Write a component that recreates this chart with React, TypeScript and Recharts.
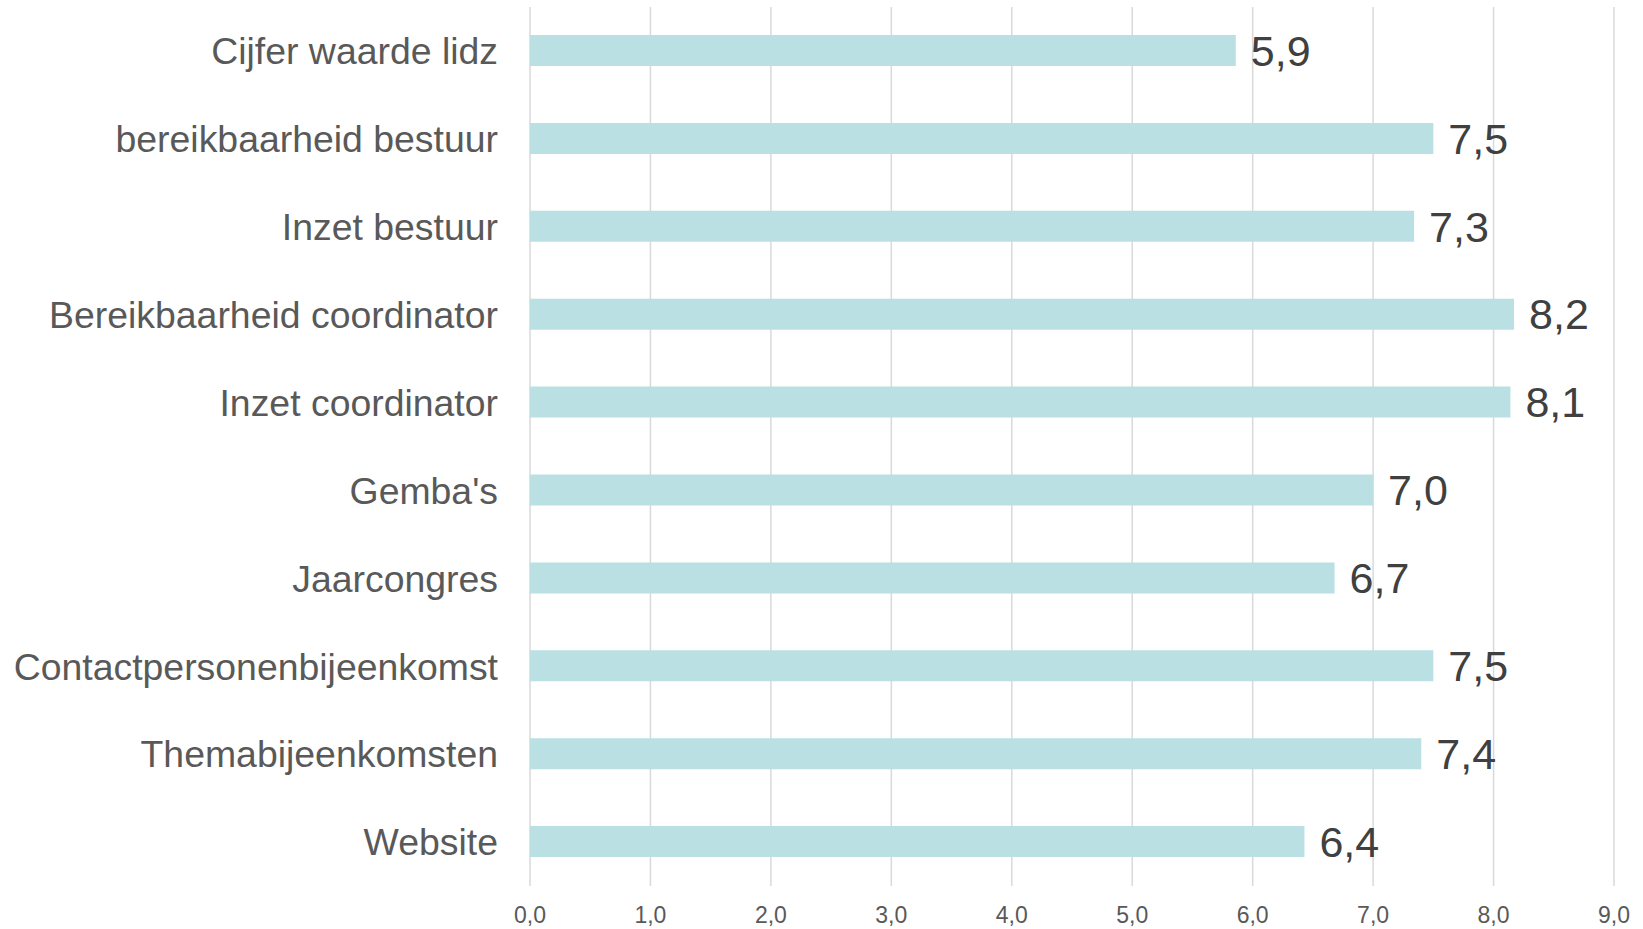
import React from 'react';
import { BarChart, Bar, XAxis, YAxis, CartesianGrid, LabelList } from 'recharts';

const categories = [
  'Cijfer waarde lidz',
  'bereikbaarheid bestuur',
  'Inzet bestuur',
  'Bereikbaarheid coordinator',
  'Inzet coordinator',
  "Gemba's",
  'Jaarcongres',
  'Contactpersonenbijeenkomst',
  'Themabijeenkomsten',
  'Website',
];

const scores = [5.86, 7.5, 7.34, 8.17, 8.14, 7.0, 6.68, 7.5, 7.4, 6.43];

const xTicks = [0, 1, 2, 3, 4, 5, 6, 7, 8, 9];

const data = categories.map((name, i) => ({ name, score: scores[i] }));

const fmt = (v: number) => Number(v).toFixed(1).replace('.', ',');

const XTick = (props: any) => {
  const { x, y, payload } = props;
  return (
    <text x={x} y={y + 27} textAnchor="middle" dominantBaseline="central" fill="#595959" fontSize={23}>
      {fmt(payload.value)}
    </text>
  );
};

const App: React.FC = () => {
  return (
    <div
      style={{
        position: 'absolute',
        left: 0,
        top: 0,
        width: 1643,
        height: 929,
        background: '#fff',
        fontFamily: '"Liberation Sans", Arial, sans-serif',
      }}
    >
      <BarChart
        width={1643}
        height={929}
        data={data}
        layout="vertical"
        margin={{ top: 7, right: 29, left: 0, bottom: 0 }}
      >
        <CartesianGrid horizontal={false} stroke="#d9d9d9" strokeWidth={1.5} />
        <XAxis
          type="number"
          domain={[0, 9]}
          ticks={xTicks}
          height={43}
          axisLine={false}
          tickLine={false}
          tickSize={0}
          tick={<XTick />}
          interval={0}
        />
        <YAxis
          type="category"
          dataKey="name"
          width={530}
          axisLine={false}
          tickLine={false}
          tickSize={0}
          tickMargin={32}
          interval={0}
          tick={{ fill: '#595959', fontSize: 37.4 }}
        />
        <Bar dataKey="score" fill="#bae0e3" barSize={31} isAnimationActive={false}>
          <LabelList
            dataKey="score"
            position="right"
            offset={15}
            formatter={(v: any) => fmt(v)}
            fill="#404040"
            fontSize={43}
          />
        </Bar>
      </BarChart>
    </div>
  );
};

export default App;
